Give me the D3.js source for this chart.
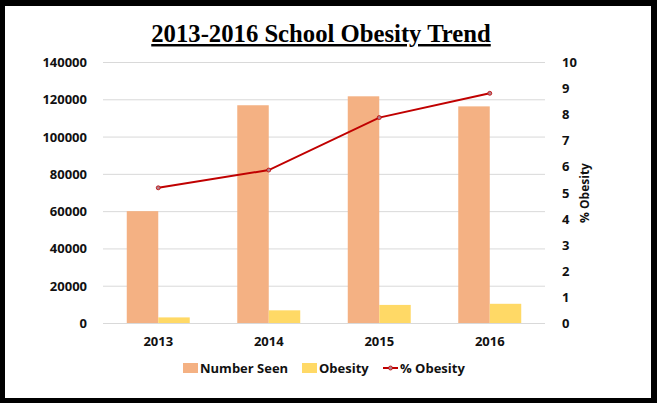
<!DOCTYPE html>
<html>
<head>
<meta charset="utf-8">
<script src="https://cdn.jsdelivr.net/npm/d3@7"></script>
<style>
  html, body { margin: 0; padding: 0; background: #000; }
  #chart { width: 657px; height: 403px; }
  text { font-family: "Open Sans", sans-serif; font-weight: bold; fill: #111; }
</style>
</head>
<body>
<div id="chart"></div>
<script>
const years = ["2013", "2014", "2015", "2016"];
const numberSeen = [60000, 116800, 121600, 116200];
const obesity = [3000, 6800, 9700, 10300];
const pctObesity = [5.18, 5.86, 7.87, 8.8];
const leftTicks = [0, 20000, 40000, 60000, 80000, 100000, 120000, 140000];
const rightTicks = [0, 1, 2, 3, 4, 5, 6, 7, 8, 9, 10];

const W = 657, H = 403;
const margin = {top: 62, right: 112, bottom: 80, left: 103};
const width = W - margin.left - margin.right;
const height = H - margin.top - margin.bottom;

const svg = d3.select("#chart").append("svg")
    .attr("width", W)
    .attr("height", H);

// white card inside the black frame
svg.append("rect")
    .attr("x", 5).attr("y", 6)
    .attr("width", 646).attr("height", 392)
    .attr("fill", "#fff");

// title
svg.append("text")
    .attr("x", 321).attr("y", 42)
    .attr("text-anchor", "middle")
    .style("font-family", "'Liberation Serif', 'Times New Roman', serif")
    .style("font-size", "24.7px")
    .style("fill", "#000")
    .style("text-decoration", "underline")
    .text("2013-2016 School Obesity Trend");

const g = svg.append("g")
    .attr("transform", "translate(" + margin.left + "," + margin.top + ")");

// scales
const x0 = d3.scaleBand().domain(years).range([0, width]).paddingInner(0.43).paddingOuter(0.215);
const x1 = d3.scaleBand().domain(["seen", "obese"]).range([0, x0.bandwidth()]);
const y = d3.scaleLinear().domain([0, 140000]).range([height, 0]);
const y2 = d3.scaleLinear().domain([0, 10]).range([height, 0]);
const xc = d => x0(d) + x0.bandwidth() / 2;

// gridlines
g.append("g")
    .call(d3.axisLeft(y).tickValues(leftTicks).tickSize(-width).tickFormat(""))
    .call(a => a.select(".domain").remove())
    .call(a => a.selectAll("line").attr("stroke", "#d9d9d9"));

// left axis
g.append("g")
    .attr("transform", "translate(-13,0)")
    .call(d3.axisLeft(y).tickValues(leftTicks).tickSize(0).tickFormat(d3.format("d")))
    .call(a => a.select(".domain").remove())
    .call(a => a.selectAll("text").style("font-size", "13px").attr("dy", "0.35em"));

// right axis
g.append("g")
    .attr("transform", "translate(" + (width + 14) + ",0)")
    .call(d3.axisRight(y2).tickValues(rightTicks).tickSize(0))
    .call(a => a.select(".domain").remove())
    .call(a => a.selectAll("text").style("font-size", "13px").attr("dy", "0.35em"));

svg.append("text")
    .attr("transform", "translate(589,193) rotate(-90)")
    .attr("text-anchor", "middle")
    .style("font-size", "12px")
    .text("% Obesity");

// x axis labels
g.append("g")
    .attr("transform", "translate(0," + height + ")")
    .call(d3.axisBottom(x0).tickSize(0).tickPadding(14))
    .call(a => a.select(".domain").remove())
    .call(a => a.selectAll("text").style("font-size", "13px"));

// bars
g.selectAll(".seen")
    .data(years)
    .enter().append("rect")
    .attr("class", "seen")
    .attr("x", d => x0(d) + x1("seen"))
    .attr("width", x1.bandwidth())
    .attr("y", (d, i) => y(numberSeen[i]))
    .attr("height", (d, i) => height - y(numberSeen[i]))
    .attr("fill", "#F4B183");

g.selectAll(".obese")
    .data(years)
    .enter().append("rect")
    .attr("class", "obese")
    .attr("x", d => x0(d) + x1("obese"))
    .attr("width", x1.bandwidth())
    .attr("y", (d, i) => y(obesity[i]))
    .attr("height", (d, i) => height - y(obesity[i]))
    .attr("fill", "#FFD966");

// line
const line = d3.line()
    .x((d, i) => xc(years[i]))
    .y(d => y2(d));

g.append("path")
    .datum(pctObesity)
    .attr("fill", "none")
    .attr("stroke", "#C00000")
    .attr("stroke-width", 2)
    .attr("d", line);

g.selectAll(".pt")
    .data(pctObesity)
    .enter().append("circle")
    .attr("class", "pt")
    .attr("cx", (d, i) => xc(years[i]))
    .attr("cy", d => y2(d))
    .attr("r", 2)
    .attr("fill", "#b0808c")
    .attr("stroke", "#C00000")
    .attr("stroke-width", 0.8);

// legend
const legend = svg.append("g").attr("transform", "translate(0,368)");

legend.append("rect").attr("x", 183).attr("y", -5).attr("width", 15).attr("height", 10).attr("fill", "#F4B183");
legend.append("text").attr("x", 200).attr("dy", "0.35em").style("font-size", "13px").text("Number Seen");

legend.append("rect").attr("x", 302).attr("y", -5).attr("width", 15).attr("height", 10).attr("fill", "#FFD966");
legend.append("text").attr("x", 319).attr("dy", "0.35em").style("font-size", "13px").text("Obesity");

legend.append("line").attr("x1", 383).attr("x2", 398).attr("y1", 0).attr("y2", 0)
    .attr("stroke", "#C00000").attr("stroke-width", 2);
legend.append("circle").attr("cx", 390.5).attr("cy", 0).attr("r", 2)
    .attr("fill", "#b0808c").attr("stroke", "#C00000").attr("stroke-width", 0.8);
legend.append("text").attr("x", 400).attr("dy", "0.35em").style("font-size", "13px").text("% Obesity");
</script>
</body>
</html>
